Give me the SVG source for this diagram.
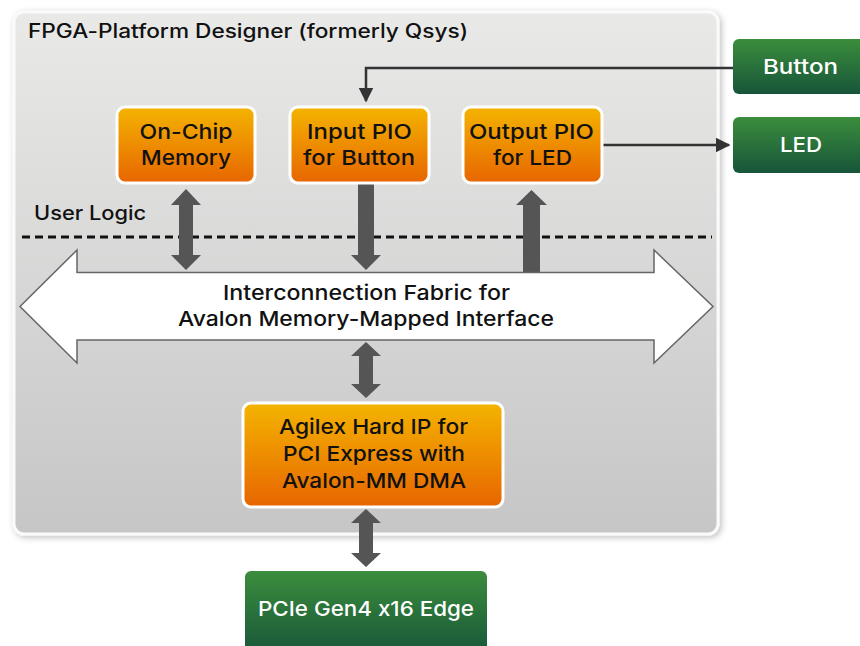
<svg xmlns="http://www.w3.org/2000/svg" width="860" height="646" viewBox="0 0 860 646">
<defs>
<linearGradient id="bg" x1="0" y1="0" x2="0" y2="1"><stop offset="0" stop-color="#e9e9e8"/><stop offset="1" stop-color="#c6c6c6"/></linearGradient>
<linearGradient id="og" x1="0" y1="0" x2="0" y2="1"><stop offset="0" stop-color="#f4b400"/><stop offset="1" stop-color="#e76500"/></linearGradient>
<linearGradient id="gg" x1="0" y1="0" x2="0" y2="1"><stop offset="0" stop-color="#3b8d3c"/><stop offset="1" stop-color="#17553a"/></linearGradient>
<filter id="sh" x="-5%" y="-5%" width="110%" height="110%"><feDropShadow dx="2" dy="2" stdDeviation="3" flood-color="#000" flood-opacity="0.25"/></filter>
<marker id="ah" viewBox="0 0 10 10" refX="9" refY="5" markerWidth="6" markerHeight="6" markerUnits="strokeWidth" orient="auto"><path d="M0,0 L10,5 L0,10 z" fill="#333"/></marker>
</defs>
<style>
text{font-family:Inter,"Open Sans",sans-serif;font-weight:500;fill:#111;font-feature-settings:"calt" 0;font-variant-ligatures:no-contextual;}
.t{font-size:20.5px;text-anchor:middle;}
.w{fill:#fff;}
.ob{fill:url(#og);stroke:#fff;stroke-width:3;}
.gb{fill:url(#gg);}
.ga{fill:#555;}
.ln{stroke:#333;stroke-width:2.5;fill:none;}
</style>
<rect width="860" height="646" fill="#fff"/>
<g id="platform">
<rect x="14" y="12" width="704" height="522" rx="10" fill="url(#bg)" stroke="#fafafa" stroke-width="3" filter="url(#sh)"/>
<text x="28" y="38" style="font-size:19.5px" textLength="440" lengthAdjust="spacingAndGlyphs">FPGA-Platform Designer (formerly Qsys)</text>
<text x="34" y="220" style="font-size:19.5px" textLength="112" lengthAdjust="spacingAndGlyphs">User Logic</text>
<line x1="22" y1="237" x2="712" y2="237" stroke="#111" stroke-width="3" stroke-dasharray="8 5"/>
</g>
<g id="connectors">
<path class="ln" d="M733,68 H366 V101" marker-end="url(#ah)"/>
<path class="ln" d="M602,145 H729" marker-end="url(#ah)"/>
<path class="ga" d="M186,189 L201,205 L193,205 L193,255 L201,255 L186,270 L171,255 L179,255 L179,205 L171,205 Z"/>
<path class="ga" d="M358,183 L374,183 L374,255 L381,255 L366,270 L351,255 L358,255 Z"/>
<path class="ga" d="M523,272 L540,272 L540,205 L547,205 L531.5,190 L516,205 L523,205 Z"/>
<path class="ga" d="M366,342 L381,356 L373,356 L373,384 L381,384 L366,398 L351,384 L359,384 L359,356 L351,356 Z"/>
<path class="ga" d="M366,509 L381,523 L373,523 L373,553 L381,553 L366,567 L351,553 L359,553 L359,523 L351,523 Z"/>
</g>
<g id="fabric">
<path d="M20,306.5 L77,250 L77,272.5 L654,272.5 L654,250 L713,306.5 L654,363 L654,340 L77,340 L77,363 Z" fill="#fff" stroke="#666" stroke-width="1.5"/>
<text class="t" x="366.5" y="300" textLength="287" lengthAdjust="spacingAndGlyphs">Interconnection Fabric for</text>
<text class="t" x="366" y="326" textLength="376" lengthAdjust="spacingAndGlyphs">Avalon Memory-Mapped Interface</text>
</g>
<g id="onchip">
<rect class="ob" x="117" y="107" width="138" height="76" rx="8"/>
<text class="t" x="186" y="139" textLength="93" lengthAdjust="spacingAndGlyphs">On-Chip</text>
<text class="t" x="186" y="165" textLength="90" lengthAdjust="spacingAndGlyphs">Memory</text>
</g>
<g id="inputpio">
<rect class="ob" x="290" y="107" width="139" height="76" rx="8"/>
<text class="t" x="359.5" y="139" textLength="105" lengthAdjust="spacingAndGlyphs">Input PIO</text>
<text class="t" x="359" y="165" textLength="112" lengthAdjust="spacingAndGlyphs">for Button</text>
</g>
<g id="outputpio">
<rect class="ob" x="463" y="107" width="139" height="76" rx="8"/>
<text class="t" x="531.5" y="139" textLength="125" lengthAdjust="spacingAndGlyphs">Output PIO</text>
<text class="t" x="532.5" y="165" textLength="79" lengthAdjust="spacingAndGlyphs">for LED</text>
</g>
<g id="button">
<rect class="gb" x="733" y="39" width="140" height="55" rx="6"/>
<text class="t w" x="800.5" y="74" textLength="75" lengthAdjust="spacingAndGlyphs">Button</text>
</g>
<g id="led">
<rect class="gb" x="733" y="117" width="140" height="56" rx="6"/>
<text class="t w" x="801" y="152" textLength="42" lengthAdjust="spacingAndGlyphs">LED</text>
</g>
<g id="agilex">
<rect class="ob" x="243" y="403" width="260" height="104" rx="8"/>
<text class="t" x="373.5" y="434" textLength="189" lengthAdjust="spacingAndGlyphs">Agilex Hard IP for</text>
<text class="t" x="374" y="461" textLength="182" lengthAdjust="spacingAndGlyphs">PCI Express with</text>
<text class="t" x="374" y="488" textLength="184" lengthAdjust="spacingAndGlyphs">Avalon-MM DMA</text>
</g>
<g id="pcie">
<rect class="gb" x="245" y="571" width="242" height="85" rx="6"/>
<text class="t w" x="366" y="616" textLength="216" lengthAdjust="spacingAndGlyphs">PCIe Gen4 x16 Edge</text>
</g>
</svg>
